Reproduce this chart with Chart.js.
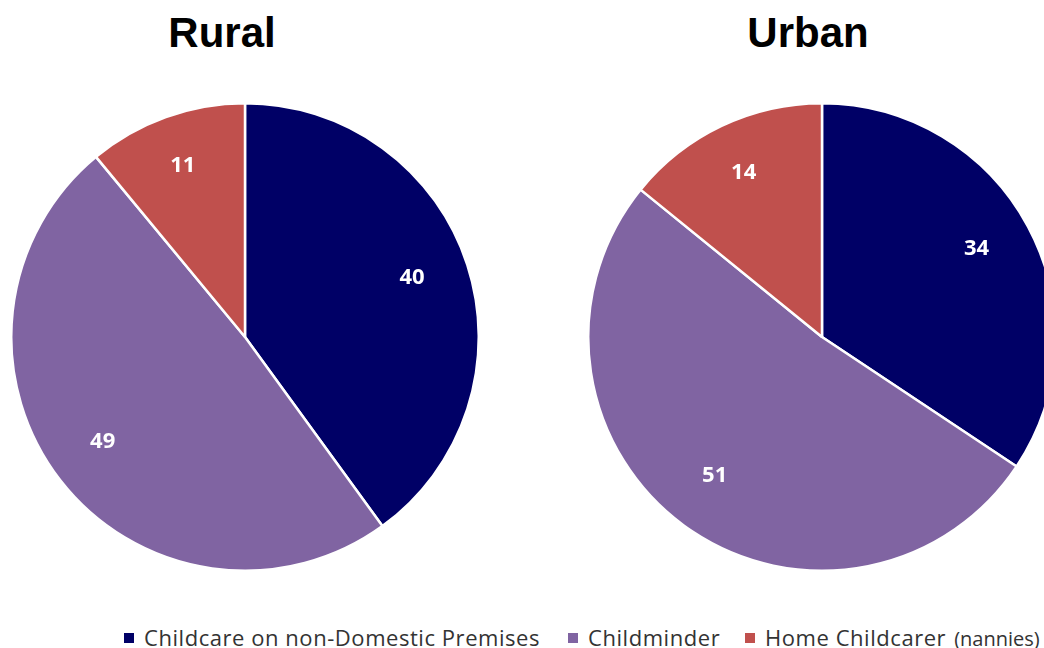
<!DOCTYPE html>
<html>
<head>
<meta charset="utf-8">
<script src="https://cdn.jsdelivr.net/npm/chart.js@4/dist/chart.umd.min.js"></script>
<style>
    html, body { margin: 0; padding: 0; background: #fff; overflow: hidden; }
    body { width: 1044px; height: 648px; position: relative; }
    .pie-title {
        position: absolute; top: 9px; width: 300px; text-align: center;
        font: bold 42px "Liberation Sans", Arial, sans-serif; color: #000;
    }
    canvas { position: absolute; }
    .legend-item {
        position: absolute; top: 622px; white-space: nowrap; line-height: 30px;
        font: 22px "Open Sans", "Noto Sans", sans-serif; color: #333; letter-spacing: 0.55px;
    }
    .legend-item i {
        position: absolute; left: -20px; top: 11px; width: 10px; height: 10px;
    }
    .legend-item small { font-size: 20px; letter-spacing: 0; margin-left: 8px; }
</style>
</head>
<body>
<div class="pie-title" style="left:72px">Rural</div>
<div class="pie-title" style="left:658px">Urban</div>
<canvas id="ruralPie" width="470" height="470" style="left:10px;top:102px"></canvas>
<canvas id="urbanPie" width="470" height="470" style="left:587px;top:102px"></canvas>
<div id="legend"></div>
<script>
const CATEGORIES = ['Childcare on non-Domestic Premises', 'Childminder', 'Home Childcarer'];
const CATEGORY_NOTES = ['', '', '(nannies)'];
const RURAL_VALUES = [40, 49, 11];
const URBAN_VALUES = [34, 51, 14];
const SLICE_COLORS = ['#000066', '#8064A2', '#C0504D'];

// left edge of each legend entry's text
const LEGEND_TEXT_X = [144, 588, 765];

// white value labels placed inside each slice along its mid angle
const sliceLabels = {
    id: 'sliceLabels',
    afterDatasetsDraw(chart) {
        const { ctx } = chart;
        const meta = chart.getDatasetMeta(0);
        const values = chart.data.datasets[0].data;
        ctx.save();
        ctx.fillStyle = '#fff';
        ctx.font = 'bold 22px "Open Sans", "Noto Sans", sans-serif';
        ctx.textAlign = 'center';
        ctx.textBaseline = 'middle';
        meta.data.forEach((arc, i) => {
            const mid = (arc.startAngle + arc.endAngle) / 2;
            const r = arc.outerRadius * 0.76;
            ctx.fillText(String(values[i]), arc.x + Math.cos(mid) * r - 2, arc.y + Math.sin(mid) * r - 4);
        });
        ctx.restore();
    },
};

function makePie(canvasId, values) {
    return new Chart(document.getElementById(canvasId), {
        type: 'pie',
        data: {
            labels: CATEGORIES,
            datasets: [{
                data: values,
                backgroundColor: SLICE_COLORS,
                borderColor: '#fff',
                borderWidth: 2.5,
            }],
        },
        options: {
            responsive: false,
            animation: false,
            layout: { padding: 0 },
            plugins: {
                legend: { display: false },
                tooltip: { enabled: false },
            },
        },
        plugins: [sliceLabels],
    });
}

makePie('ruralPie', RURAL_VALUES);
makePie('urbanPie', URBAN_VALUES);

const legend = document.getElementById('legend');
CATEGORIES.forEach((name, i) => {
    const item = document.createElement('div');
    item.className = 'legend-item';
    item.style.left = LEGEND_TEXT_X[i] + 'px';
    item.innerHTML = `<i style="background:${SLICE_COLORS[i]}"></i>${name}` +
        (CATEGORY_NOTES[i] ? `<small>${CATEGORY_NOTES[i]}</small>` : '');
    legend.appendChild(item);
});
</script>
</body>
</html>
